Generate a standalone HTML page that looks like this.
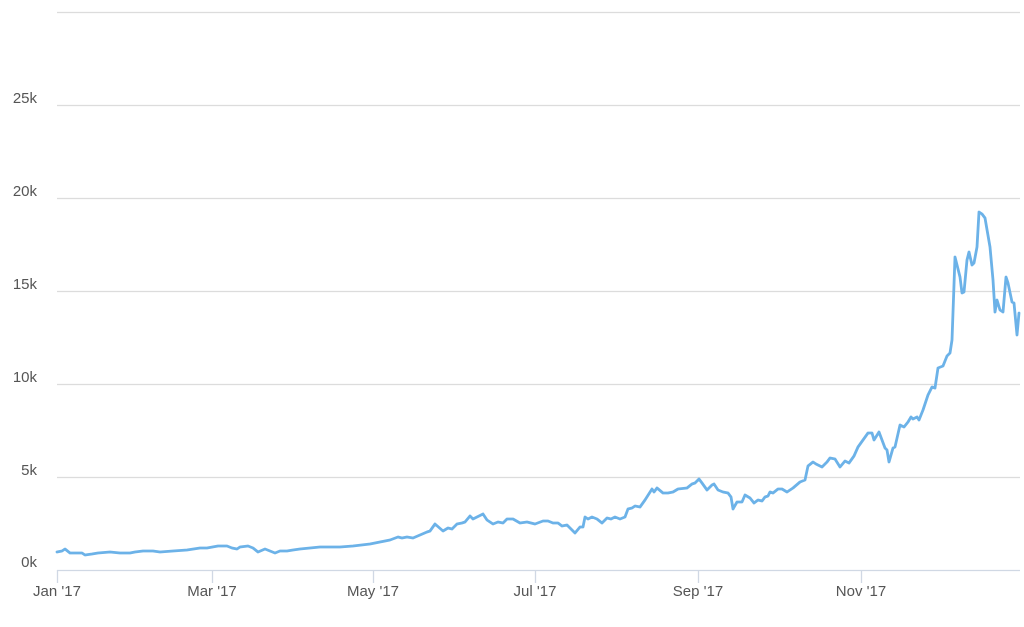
<!DOCTYPE html>
<html><head><meta charset="utf-8"><style>
html,body{margin:0;padding:0;background:#fff;}
svg{display:block;}
text{font-family:"Liberation Sans",sans-serif;font-size:15px;fill:#555;}
</style></head><body>
<svg width="1024" height="627" viewBox="0 0 1024 627" xmlns="http://www.w3.org/2000/svg">
<g stroke="#dcdcdc" stroke-width="1.3">
<line x1="57" y1="12.5" x2="1020" y2="12.5"/>
<line x1="57" y1="105.5" x2="1020" y2="105.5"/>
<line x1="57" y1="198.5" x2="1020" y2="198.5"/>
<line x1="57" y1="291.5" x2="1020" y2="291.5"/>
<line x1="57" y1="384.5" x2="1020" y2="384.5"/>
<line x1="57" y1="477.5" x2="1020" y2="477.5"/>
</g>
<g stroke="#d0d8e4" stroke-width="1.3">
<line x1="57" y1="570.5" x2="1020" y2="570.5"/>
<line x1="57.5" y1="570" x2="57.5" y2="583"/>
<line x1="212.5" y1="570" x2="212.5" y2="583"/>
<line x1="373.5" y1="570" x2="373.5" y2="583"/>
<line x1="535.5" y1="570" x2="535.5" y2="583"/>
<line x1="698.5" y1="570" x2="698.5" y2="583"/>
<line x1="861.5" y1="570" x2="861.5" y2="583"/>
</g>
<g text-anchor="end">
<text x="37" y="103">25k</text>
<text x="37" y="196">20k</text>
<text x="37" y="289">15k</text>
<text x="37" y="382">10k</text>
<text x="37" y="475">5k</text>
<text x="37" y="567">0k</text>
</g>
<g text-anchor="middle">
<text x="57" y="596">Jan '17</text>
<text x="212" y="596">Mar '17</text>
<text x="373" y="596">May '17</text>
<text x="535" y="596">Jul '17</text>
<text x="698" y="596">Sep '17</text>
<text x="861" y="596">Nov '17</text>
</g>
<polyline fill="none" stroke="#6cb2e8" stroke-width="2.8" stroke-linejoin="round" stroke-linecap="round" points="57,552 62,551 65,549 70,553 78,553 82,553 85,555 92,554 98,553 110,552 120,553 130,553 135,552 143,551 153,551 160,552 173,551 187,550 200,548 207,548 218,546 227,546 232,548 237,549 240,547 248,546 253,548 258,552 265,549 270,551 275,553 280,551 287,551 293,550 300,549 320,547 340,547 353,546 370,544 380,542 390,540 398,537 402,538 407,537 413,538 420,535 427,532 430,531 435,524 443,531 448,528 452,529 457,524 462,523 465,522 470,516 473,519 477,517 483,514 487,520 493,524 498,522 503,523 507,519 513,519 520,523 527,522 535,524 543,521 548,521 553,523 558,523 562,526 567,525 575,533 580,527 583,527 585,517 588,519 592,517 597,519 602,523 607,518 611,519 615,517 620,519 625,517 628,509 632,508 635,506 640,507 645,500 652,489 654,492 657,488 663,493 668,493 673,492 678,489 687,488 692,484 695,483 699,479 702,483 707,490 712,485 714,484 718,490 723,492 728,493 731,497 733,509 737,502 742,502 745,495 750,498 754,503 758,500 762,501 765,497 768,496 770,492 773,493 778,489 782,489 787,492 793,488 800,482 805,480 808,466 813,462 816,464 822,467 827,462 830,458 835,459 840,467 845,461 849,463 854,456 858,447 863,440 868,433 872,433 874,440 879,432 885,448 887,450 889,462 893,448 895,447 900,425 904,427 908,422 911,417 913,419 917,417 919,420 923,410 928,395 932,387 935,388 938,368 943,366 947,356 950,353 952,340 955,257 960,277 962,293 964,292 967,260 969,252 972,265 974,263 977,247 979,212 982,214 985,218 990,247 993,280 995,312 997,300 1000,310 1003,312 1006,277 1008,283 1012,302 1014,303 1017,335 1019,313"/>
</svg>
</body></html>
